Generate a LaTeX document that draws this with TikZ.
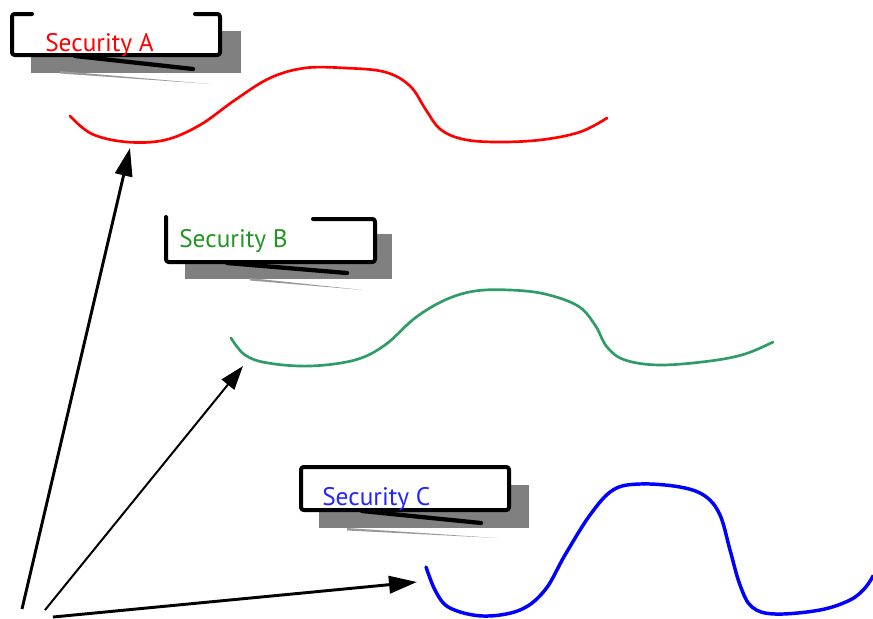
\documentclass[tikz,border=0pt]{standalone}
\usepackage{fontspec}
\setmainfont{PT Sans}
\usepackage{xcolor}
\usetikzlibrary{arrows.meta}

\definecolor{secred}{RGB}{255,0,0}
\definecolor{secgreen}{RGB}{34,150,34}
\definecolor{curvegreen}{RGB}{46,156,104}
\definecolor{secblue}{RGB}{36,36,255}
\definecolor{curveblue}{RGB}{0,0,255}
\definecolor{shadowgray}{RGB}{128,128,128}

\begin{document}
\begin{tikzpicture}[x=0.75pt,y=-0.75pt,
  every node/.style={font=\fontsize{19}{22}\selectfont},
  lbl/.style={anchor=base west,inner sep=0pt},
  frame/.style={line width=3pt,line cap=round,line join=round,rounded corners=2pt},
  tailline/.style={line width=3.2pt,line cap=round},
  shadowbox/.style={fill=shadowgray},
  streak/.style={fill=shadowgray!80},
  curve/.style={line width=2pt,line cap=round},
  arc/.style={-{Triangle[length=21pt,width=13pt]},line width=2.2pt},
  thinarc/.style={-{Triangle[length=18pt,width=12pt]},line width=1.5pt}
]
\useasboundingbox (0,0) rectangle (873,618);

% callout A
\fill[shadowbox] (31,31) rectangle (241,73);
\fill[white] (12,14) rectangle (220,55);
\fill[streak] (60,71) -- (210,84) -- (60,73.5) -- cycle;
\draw[frame] (32,14) -- (12,14) -- (12,55) -- (220,55) -- (220,14) -- (195,14);
\draw[tailline] (75,56) -- (193,69);
\node[lbl,text=secred] (labA) at (45,51) {Security A};

% callout B
\fill[shadowbox] (185,234) rectangle (392,279);
\fill[white] (166,217) rectangle (375,262);
\fill[streak] (250,278) -- (363,290) -- (250,280.5) -- cycle;
\draw[frame] (166,217) -- (166,262) -- (375,262) -- (375,219) -- (313,219);
\draw[tailline] (227,263) -- (347,273);
\node[lbl,text=secgreen] (labB) at (179,247) {Security B};

% callout C
\fill[shadowbox] (319,485) rectangle (529,528);
\fill[white] (301,467) rectangle (509,510);
\fill[streak] (347,528) -- (497,538) -- (347,530.5) -- cycle;
\draw[frame] (301,467) rectangle (509,510);
\draw[tailline] (362,511) -- (481,523);
\node[lbl,text=secblue] (labC) at (322,505) {Security C};

% price paths
\draw[curve,secred] plot[smooth,tension=0.6] coordinates {(70,116) (92,134) (127,142) (165,140) (200,125) (235,100) (270,78) (305,68) (345,68) (385,72) (410,86) (426,110) (440,129) (462,139) (495,142) (540,140) (580,132) (607,118)};
\draw[curve,curvegreen] plot[smooth,tension=0.6] coordinates {(231,338) (245,355) (268,363) (310,366) (355,360) (385,345) (415,318) (445,300) (475,291) (510,290) (545,294) (578,306) (595,325) (607,347) (625,360) (660,365) (710,361) (745,354) (773,342)};
\draw[curve,curveblue,line width=2.6pt] plot[smooth,tension=0.6] coordinates {(426,567) (436,592) (450,608) (483,616) (520,610) (545,590) (565,555) (590,515) (613,490) (640,484) (680,487) (705,496) (720,515) (730,550) (740,585) (752,607) (775,614) (820,610) (850,600) (865,588) (873,576)};

% arrows
\coordinate (orgA) at (22,609);
\coordinate (orgB) at (45,610);
\coordinate (orgC) at (53,617);
\coordinate (tipA) at (130,148);
\coordinate (tipB) at (243,366);
\coordinate (tipC) at (417,582);
\draw[arc] (orgA) -- (tipA);
\draw[thinarc] (orgB) -- (tipB);
\draw[arc] (orgC) -- (tipC);
\end{tikzpicture}
\end{document}
